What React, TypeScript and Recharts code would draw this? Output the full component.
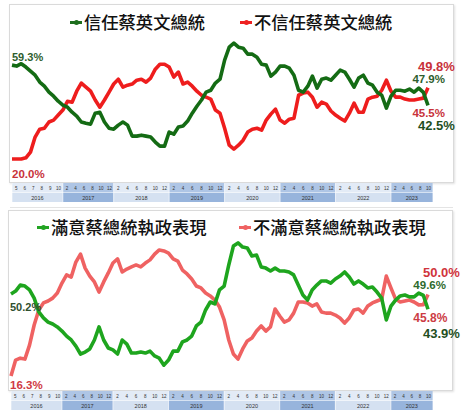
import React from 'react';
import { LineChart, Line, XAxis, YAxis, LabelList } from 'recharts';

// survey-by-survey values, 2016/05 .. 2023/10
const trust = [
  59.3, 58.9, 59.9, 58.5, 56.8, 55.1, 52.2, 50.5, 48.0, 46.3,
  44.2, 42.6, 41.7, 39.6, 38.0, 35.5, 35.0, 34.6, 39.2, 39.6,
  35.5, 32.9, 32.5, 34.2, 35.5, 34.2, 29.6, 29.6, 30.0, 29.6,
  29.2, 27.1, 25.4, 25.4, 31.3, 30.4, 33.4, 33.8, 35.9, 39.2,
  42.1, 44.7, 48.0, 48.8, 51.8, 53.4, 61.4, 66.8, 68.5, 66.8,
  66.4, 63.9, 63.9, 62.6, 59.7, 59.3, 54.7, 56.4, 58.9, 58.9,
  58.0, 55.1, 48.8, 48.0, 50.5, 54.7, 49.7, 53.4, 53.9, 53.0,
  55.1, 57.2, 56.4, 53.4, 50.1, 53.9, 55.1, 51.8, 50.9, 48.0,
  46.7, 41.3, 46.3, 48.8, 48.8, 48.4, 49.3, 48.0, 49.7, 47.9,
  42.5,
];
const distrust = [
  20.0, 20.0, 20.0, 20.5, 22.9, 29.2, 32.5, 32.9, 35.5, 36.3,
  38.4, 40.5, 44.2, 43.8, 48.4, 51.8, 50.1, 48.4, 44.7, 41.7,
  44.7, 48.0, 51.4, 53.4, 50.1, 50.9, 51.4, 53.0, 53.4, 52.2,
  53.9, 57.6, 59.7, 59.7, 58.5, 54.3, 56.4, 51.4, 52.2, 50.5,
  48.4, 46.7, 45.9, 45.1, 40.5, 39.2, 32.9, 25.8, 24.2, 25.8,
  27.9, 31.3, 32.5, 32.9, 32.1, 36.3, 38.8, 40.9, 36.3, 35.0,
  36.7, 37.1, 46.7, 47.6, 48.0, 45.9, 41.7, 43.8, 43.0, 40.1,
  38.4, 37.1, 35.9, 39.2, 43.4, 39.6, 39.6, 45.1, 45.9, 46.3,
  48.8, 53.0, 48.4, 45.9, 45.9, 45.1, 44.7, 44.7, 45.1, 45.5,
  49.8,
];
const satisfied = [
  50.2, 51.4, 53.9, 53.5, 51.9, 48.5, 42.8, 40.3, 38.6, 37.8,
  36.6, 34.9, 32.8, 31.2, 28.7, 25.4, 26.2, 27.5, 31.2, 36.6,
  31.2, 27.9, 27.1, 25.4, 31.2, 29.5, 25.8, 25.8, 26.2, 25.8,
  26.6, 24.6, 23.7, 20.8, 22.9, 26.6, 26.6, 30.4, 31.2, 32.8,
  37.0, 38.6, 43.6, 46.9, 46.1, 51.9, 53.5, 62.2, 70.0, 71.3,
  69.6, 69.2, 65.9, 66.3, 61.4, 60.9, 59.7, 60.9, 59.7, 59.7,
  59.3, 58.1, 53.9, 49.8, 47.7, 51.9, 53.9, 55.6, 55.6, 54.7,
  56.4, 57.6, 59.3, 57.2, 54.3, 55.6, 54.3, 52.7, 53.1, 51.0,
  48.5, 39.5, 45.2, 47.7, 49.4, 49.8, 49.0, 49.0, 50.6, 49.6,
  43.9,
];
const dissatisfied = [
  16.3, 22.9, 23.7, 23.3, 29.1, 37.4, 43.6, 46.5, 47.3, 48.5,
  50.6, 54.7, 58.1, 57.2, 63.4, 66.7, 60.9, 57.6, 55.2, 51.0,
  55.2, 58.9, 63.0, 64.7, 59.3, 60.5, 61.4, 62.2, 61.4, 63.0,
  64.3, 66.7, 68.4, 68.0, 67.1, 64.7, 63.8, 60.1, 58.5, 56.4,
  53.5, 52.7, 50.6, 49.4, 47.7, 44.8, 39.5, 31.2, 25.4, 23.3,
  27.5, 30.8, 32.0, 34.9, 37.0, 34.9, 36.6, 44.0, 41.1, 38.6,
  39.5, 42.3, 46.9, 46.9, 46.5, 45.2, 46.1, 42.8, 42.3, 42.3,
  41.5, 40.3, 38.2, 40.3, 43.6, 44.0, 42.3, 45.2, 46.5, 47.3,
  48.1, 57.6, 52.7, 48.1, 46.9, 47.3, 47.7, 46.9, 45.7, 45.8,
  50.0,
];

const years = ['2016', '2017', '2018', '2019', '2020', '2021', '2022', '2023'];
const surveysPerYear = [11, 11, 12, 12, 12, 12, 12, 9];
const evenMonths = ['2', '4', '6', '8', '10', '12'];
const monthLabels = [
  ['5', '6', '7', '8', '9', '10'],
  evenMonths, evenMonths, evenMonths, evenMonths, evenMonths, evenMonths,
  ['2', '4', '6', '8', '10'],
];

const trustData = trust.map((v, i) => ({ i, yes: v, no: distrust[i] }));
const satData = satisfied.map((v, i) => ({ i, yes: v, no: dissatisfied[i] }));
const LAST = trust.length - 1;

const LATIN = '"Liberation Sans", Arial, sans-serif';
const CJK = '"Noto Sans CJK TC", "Noto Sans", sans-serif';

type Spec = { dx: number; dy: number; size: number; color: string; bold?: boolean };

const makeLabel = (specs: Record<number, Spec>) => (props: any) => {
  const { x, y, index, value } = props;
  const s = specs[index];
  if (!s || x == null || y == null) return null;
  return (
    <text
      x={x + s.dx}
      y={y + s.dy}
      fill={s.color}
      fontSize={s.size}
      fontWeight={s.bold ? 700 : 600}
      fontFamily={LATIN}
      dominantBaseline="central"
      textAnchor="start"
    >
      {Number(value).toFixed(1)}%
    </text>
  );
};

const AxisBand = ({ left, top, step }: { left: number; top: number; step: number }) => {
  const edges = [0];
  surveysPerYear.forEach((n) => edges.push(edges[edges.length - 1] + n));
  return (
    <svg width={461} height={20} style={{ position: 'absolute', left: 0, top }}>
      {years.map((yr, k) => {
        const x0 = left + edges[k] * step;
        const x1 = left + edges[k + 1] * step;
        const dark = k % 2 === 1;
        const ms = monthLabels[k];
        return (
          <g key={yr}>
            <rect x={x0} y={0} width={x1 - x0} height={9.5} fill={dark ? '#aec5e5' : '#e3ebf6'} />
            <rect x={x0} y={10} width={x1 - x0} height={9} fill={dark ? '#97b4dc' : '#d5e1f1'} />
            <line x1={x0} x2={x0} y1={0} y2={19} stroke="#ffffff" strokeWidth={0.6} />
            {ms.map((m, j) => (
              <text key={j} x={x0 + ((j + 0.5) * (x1 - x0)) / ms.length} y={6.5} fontSize={4.5} fill="#333"
                textAnchor="middle" fontFamily={LATIN}>{m}</text>
            ))}
            <text x={(x0 + x1) / 2} y={16.5} fontSize={5.5} fill="#333" textAnchor="middle" fontFamily={LATIN}>{yr}</text>
          </g>
        );
      })}
    </svg>
  );
};

const LegendItem = ({ x, y, color, text }: { x: number; y: number; color: string; text: string }) => (
  <div style={{ position: 'absolute', left: x, top: y, display: 'flex', alignItems: 'center', whiteSpace: 'nowrap' }}>
    <div style={{ position: 'relative', width: 12, height: 4, marginRight: 2 }}>
      <div style={{ position: 'absolute', left: 0, top: 1, width: 12, height: 2.5, background: color }} />
      <div style={{ position: 'absolute', left: 3.5, top: -0.5, width: 5, height: 5, borderRadius: 3, background: color }} />
    </div>
    <span style={{ fontFamily: CJK, fontSize: 17.3, fontWeight: 500, color: '#111', lineHeight: '20px' }}>{text}</span>
  </div>
);

const frame: React.CSSProperties = {
  position: 'absolute', border: '1px solid #dadada', boxShadow: '1px 1px 2px rgba(0,0,0,0.12)', background: '#fff',
};

const lineProps = { strokeWidth: 3.6, dot: false as const, strokeLinejoin: 'round' as const, isAnimationActive: false };

export default function App() {
  return (
    <div style={{ position: 'absolute', left: 0, top: 0, width: 461, height: 420, background: '#fff', overflow: 'hidden' }}>
      {/* top panel */}
      <div style={{ ...frame, left: 9, top: 4, width: 443, height: 177 }} />
      <div style={{ position: 'absolute', left: 10, top: 207, width: 443, height: 1, background: '#e4e4e4' }} />
      <LegendItem x={70} y={12} color="#1d6e1d" text="信任蔡英文總統" />
      <LegendItem x={240} y={12} color="#ee2222" text="不信任蔡英文總統" />
      <div style={{ position: 'absolute', left: 0, top: 0 }}>
        <LineChart width={461} height={200} data={trustData} margin={{ top: 30, right: 33, bottom: 26.6, left: 12 }}>
          <XAxis dataKey="i" type="number" domain={[0, LAST]} hide />
          <YAxis type="number" domain={[14, 74]} hide />
          <Line dataKey="no" stroke="#ee1d1d" {...lineProps}>
            <LabelList dataKey="no" content={makeLabel({
              0: { dx: 0, dy: 15, size: 11.5, color: '#c8323a', bold: true },
              [LAST - 1]: { dx: -11, dy: 15, size: 11.5, color: '#c8323a' },
              [LAST]: { dx: -10, dy: -21, size: 13, color: '#c8323a', bold: true },
            })} />
          </Line>
          <Line dataKey="yes" stroke="#146b14" {...lineProps}>
            <LabelList dataKey="yes" content={makeLabel({
              0: { dx: 0, dy: -8, size: 11, color: '#2e5e2e', bold: true },
              [LAST - 1]: { dx: -11, dy: -13, size: 11.5, color: '#2e5e2e' },
              [LAST]: { dx: -10, dy: 20, size: 13, color: '#1f4f1f', bold: true },
            })} />
          </Line>
        </LineChart>
      </div>
      <AxisBand left={12} top={183} step={416 / LAST} />

      {/* bottom panel */}
      <div style={{ ...frame, left: 8, top: 210, width: 443, height: 179 }} />
      <LegendItem x={37} y={217} color="#22a422" text="滿意蔡總統執政表現" />
      <LegendItem x={239} y={217} color="#ef6262" text="不滿意蔡總統執政表現" />
      <div style={{ position: 'absolute', left: 0, top: 210 }}>
        <LineChart width={461} height={190} data={satData} margin={{ top: 26.4, right: 33, bottom: 8.7, left: 11 }}>
          <XAxis dataKey="i" type="number" domain={[0, LAST]} hide />
          <YAxis type="number" domain={[10, 74]} hide />
          <Line dataKey="no" stroke="#ef6262" {...lineProps}>
            <LabelList dataKey="no" content={makeLabel({
              0: { dx: -1, dy: 9, size: 11.5, color: '#d03a44', bold: true },
              [LAST - 1]: { dx: -10, dy: 13, size: 12, color: '#cc3c44' },
              [LAST]: { dx: -5, dy: -22, size: 13, color: '#d0343c', bold: true },
            })} />
          </Line>
          <Line dataKey="yes" stroke="#1ea51e" {...lineProps}>
            <LabelList dataKey="yes" content={makeLabel({
              0: { dx: -1, dy: 13, size: 11, color: '#2f4f2f', bold: true },
              [LAST - 1]: { dx: -10, dy: -10, size: 11.5, color: '#2d6a2d' },
              [LAST]: { dx: -5, dy: 24, size: 13, color: '#1f4f1f', bold: true },
            })} />
          </Line>
        </LineChart>
      </div>
      <AxisBand left={11} top={391} step={417 / LAST} />
    </div>
  );
}
